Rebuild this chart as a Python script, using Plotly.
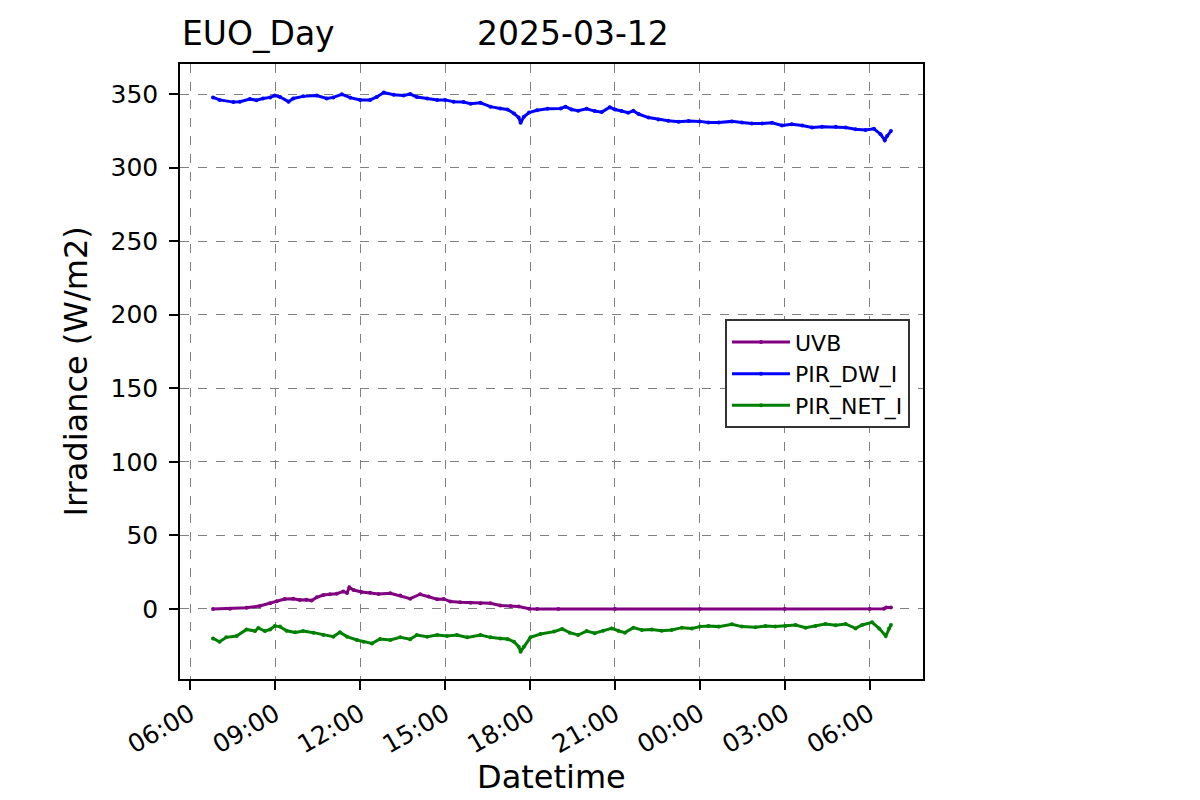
import plotly.graph_objects as go
import pandas as pd

DATE = "2025-03-12"
STATION = "EUO_Day"

# ---- data (clock times, day wraps after midnight) ----
t_dw = ["06:48", "07:02", "07:31", "07:45", "08:06", "08:20", "08:34", "08:49", "08:59", "09:10",
        "09:28", "09:38", "09:59", "10:28", "10:49", "11:03", "11:21", "11:39", "12:00", "12:21",
        "12:35", "12:50", "13:11", "13:32", "13:46", "14:00", "14:22", "14:43", "15:00", "15:18",
        "15:39", "15:54", "16:15", "16:36", "16:57", "17:12", "17:26", "17:36", "17:40", "17:47",
        "17:58", "18:15", "18:37", "19:05", "19:15", "19:28", "19:42", "20:00", "20:17", "20:32",
        "20:49", "21:00", "21:14", "21:28", "21:39", "21:50", "22:11", "22:32", "22:53", "23:15",
        "23:36", "00:00", "00:18", "00:40", "01:08", "01:29", "01:50", "02:12", "02:33", "02:54",
        "03:15", "03:37", "03:58", "04:19", "04:48", "05:09", "05:30", "05:51", "06:09", "06:23",
        "06:32", "06:37", "06:45"]
pir_dw = [347.7, 346.0, 344.5, 344.7, 346.6, 345.8, 347.0, 347.7, 349.0, 348.0,
          344.8, 347.0, 348.4, 349.0, 347.0, 347.7, 349.8, 347.5, 345.9, 346.0,
          348.0, 351.0, 349.5, 349.0, 350.0, 348.0, 347.0, 346.0, 346.0, 344.8,
          344.5, 343.4, 344.0, 341.4, 340.2, 339.5, 336.8, 334.0, 330.5, 334.5,
          337.4, 339.0, 340.0, 340.2, 341.4, 339.5, 338.6, 340.0, 338.4, 337.7,
          341.0, 339.5, 338.4, 337.3, 338.6, 336.4, 334.0, 332.7, 331.8, 331.1,
          331.6, 331.4, 330.7, 330.7, 331.4, 330.7, 330.0, 330.0, 330.5, 328.6,
          329.5, 328.6, 327.3, 327.7, 327.7, 327.3, 326.0, 325.5, 326.4, 322.7,
          318.6, 321.4, 324.8]

t_uvb = ["06:48", "07:24", "07:59", "08:27", "08:49", "09:03", "09:20", "09:38", "09:52", "10:06",
         "10:17", "10:28", "10:42", "10:56", "11:10", "11:24", "11:32", "11:37", "11:46", "12:03",
         "12:21", "12:39", "13:04", "13:25", "13:46", "14:07", "14:25", "14:43", "14:57", "15:11",
         "15:32", "15:54", "16:15", "16:36", "16:57", "17:19", "17:36", "17:58", "18:15", "19:00",
         "21:00", "00:00", "03:00", "06:00", "06:30", "06:35", "06:45"]
uvb = [0.0, 0.2, 0.9, 2.0, 3.9, 5.2, 6.8, 7.0, 6.1, 6.3,
       5.7, 7.9, 9.5, 10.0, 10.4, 11.8, 10.9, 14.7, 12.9, 11.6,
       11.1, 10.2, 10.7, 9.1, 7.0, 10.0, 8.4, 6.6, 6.8, 5.0,
       4.5, 4.3, 3.9, 3.9, 2.3, 2.0, 1.6, 0.2, 0.0, 0.0,
       0.0, 0.0, 0.0, 0.0, 0.1, 1.0, 1.0]

t_net = ["06:48", "07:02", "07:16", "07:38", "07:59", "08:17", "08:24", "08:38", "08:49", "08:59",
         "09:10", "09:24", "09:42", "09:59", "10:21", "10:42", "11:03", "11:17", "11:32", "11:53",
         "12:07", "12:25", "12:42", "13:04", "13:25", "13:46", "14:00", "14:22", "14:43", "15:04",
         "15:25", "15:47", "16:15", "16:36", "16:57", "17:12", "17:26", "17:36", "17:40", "17:47",
         "18:01", "18:22", "18:51", "19:08", "19:24", "19:42", "20:00", "20:17", "20:35", "20:53",
         "21:07", "21:21", "21:39", "21:57", "22:18", "22:39", "23:00", "23:22", "23:43", "00:00",
         "00:18", "00:40", "01:08", "01:29", "01:58", "02:19", "02:40", "03:01", "03:23", "03:44",
         "04:05", "04:26", "04:48", "05:09", "05:30", "05:44", "06:05", "06:20", "06:34", "06:41",
         "06:45"]
pir_net = [-20.0, -22.3, -19.3, -18.4, -13.9, -15.0, -12.9, -15.0, -13.9, -11.6,
           -12.0, -14.8, -15.9, -15.0, -16.1, -17.7, -18.8, -15.9, -18.8, -21.1,
           -22.3, -23.4, -20.4, -21.1, -19.3, -20.6, -17.7, -18.8, -17.7, -18.4,
           -17.7, -19.3, -17.7, -19.3, -20.0, -20.4, -22.3, -25.6, -29.0, -25.6,
           -19.3, -17.0, -15.4, -13.6, -16.1, -17.7, -15.0, -16.5, -14.8, -13.2,
           -14.8, -16.1, -12.7, -14.3, -13.9, -14.8, -14.3, -12.7, -13.2, -12.0,
           -11.6, -12.0, -10.4, -12.0, -12.5, -11.6, -12.0, -11.6, -10.9, -12.7,
           -11.6, -10.2, -11.1, -10.2, -13.2, -10.9, -9.1, -13.2, -18.4, -13.2,
           -10.9]

series_names = ["UVB", "PIR_DW_I", "PIR_NET_I"]
series_colors = ["#800080", "#0000ff", "#008000"]

tick_times = ["06:00", "09:00", "12:00", "15:00", "18:00", "21:00", "00:00", "03:00", "06:00"]


def to_dt(hhmm_list):
    day = pd.Timestamp(DATE)
    out, prev = [], None
    for s in hhmm_list:
        h, m = map(int, s.split(":"))
        t = day + pd.Timedelta(hours=h, minutes=m)
        if prev is not None and t < prev:
            day += pd.Timedelta(days=1)
            t += pd.Timedelta(days=1)
        out.append(t)
        prev = t
    return out


xs = [to_dt(t_uvb), to_dt(t_dw), to_dt(t_net)]
ys = [uvb, pir_dw, pir_net]

fig = go.Figure()
for name, color, x, y in zip(series_names, series_colors, xs, ys):
    fig.add_trace(go.Scatter(
        x=x, y=y, name=name, mode="lines+markers",
        line=dict(color=color, width=3),
        marker=dict(color=color, size=4),
    ))

FONT = "DejaVu Sans"
tickvals = to_dt(tick_times)
x0 = pd.Timestamp(DATE) + pd.Timedelta(hours=5, minutes=38)
x1 = pd.Timestamp(DATE) + pd.Timedelta(days=1, hours=7, minutes=53)

axis_common = dict(
    showline=True, mirror=True, linecolor="black", linewidth=1.5,
    ticks="outside", ticklen=9, tickwidth=1.5, tickcolor="black",
    showgrid=True, gridcolor="#808080", gridwidth=1, griddash="dash",
    zeroline=False, tickfont=dict(family=FONT, size=25, color="black"),
)

fig.update_xaxes(range=[x0, x1], tickvals=tickvals, tickformat="%H:%M",
                 tickangle=-30, **axis_common)
fig.update_yaxes(range=[-47.6, 370.4], tick0=0, dtick=50,
                 ticklabelstandoff=6, **axis_common)

fig.update_layout(
    width=1200, height=800, autosize=False,
    margin=dict(l=180, r=277, t=64, b=121),
    paper_bgcolor="white", plot_bgcolor="white",
    font=dict(family=FONT, color="black"),
    showlegend=True,
    legend=dict(x=0.7335, y=0.585, xanchor="left", yanchor="top",
                bgcolor="white", bordercolor="#333333", borderwidth=2,
                font=dict(family=FONT, size=22, color="black"),
                itemwidth=58, tracegroupgap=0),
    annotations=[
        dict(text=STATION, xref="paper", yref="paper", x=0.0, y=1.0488,
             xanchor="left", yanchor="middle", showarrow=False,
             font=dict(family=FONT, size=33, color="black")),
        dict(text=DATE, xref="paper", yref="paper", x=0.529, y=1.0488,
             xanchor="center", yanchor="middle", showarrow=False,
             font=dict(family=FONT, size=33, color="black")),
        dict(text="Datetime", xref="paper", yref="paper", x=0.5, y=-0.160,
             xanchor="center", yanchor="middle", showarrow=False,
             font=dict(family=FONT, size=32, color="black")),
        dict(text="Irradiance (W/m2)", xref="paper", yref="paper", x=-0.14, y=0.5,
             xanchor="center", yanchor="middle", showarrow=False, textangle=-90,
             font=dict(family=FONT, size=32, color="black")),
    ],
)

fig.write_html("out.html")
